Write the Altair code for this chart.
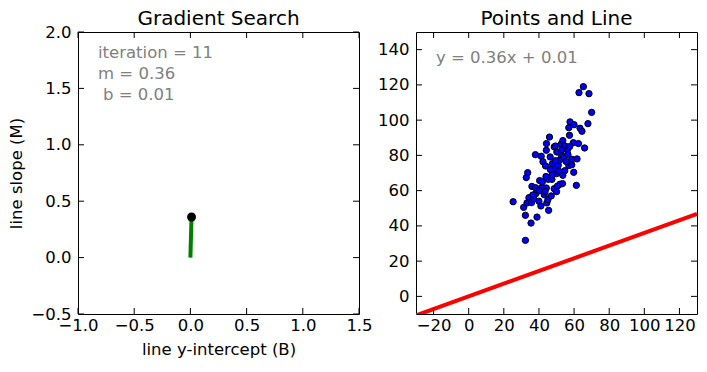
import altair as alt
import pandas as pd

FONT = "DejaVu Sans"
FS = 16.5

# ---- left panel data ----
path_b = [0.0, 0.01]
path_m = [0.0, 0.36]
final_b = [0.01]
final_m = [0.36]
ann_left = ["iteration = 11", "m = 0.36", "b = 0.01"]
left_xticks = [-1.0, -0.5, 0.0, 0.5, 1.0, 1.5]
left_yticks = [-0.5, 0.0, 0.5, 1.0, 1.5, 2.0]

# ---- right panel data ----
pts_x = [25.3, 32.3, 32.3, 31.3, 32.8, 33.6, 35.5, 34.3, 33.2, 35.8, 36.0, 37.0, 38.0, 38.0, 38.9,
         38.3, 40.0, 40.4, 41.3, 41.1, 41.3, 42.3, 41.9, 43.0, 43.8, 44.3, 44.2, 44.2, 44.5, 45.5,
         45.1, 45.3, 46.0, 46.4, 47.0, 47.4, 47.7, 48.5, 48.7, 48.7, 50.0, 49.4, 50.0, 50.2, 51.0,
         51.7, 51.3, 51.9, 52.6, 52.8, 53.4, 53.6, 53.6, 54.2, 54.7, 54.9, 56.2, 57.0, 57.0, 57.4,
         57.7, 58.7, 58.7, 59.6, 59.8, 60.0, 61.3, 61.7, 62.5, 62.8, 63.4, 64.5, 65.3, 66.0, 67.9,
         68.5, 70.0, 56.5, 57.5, 55.5, 49.5, 46.5, 43.5, 40.0, 36.5, 53.0, 50.5, 47.5, 44.0]
pts_y = [53.7, 31.8, 46.0, 50.5, 67.4, 70.2, 41.6, 56.0, 53.0, 53.2, 62.4, 55.4, 61.7, 80.4, 45.0,
         58.3, 54.0, 65.7, 79.5, 51.3, 61.5, 76.4, 64.9, 57.7, 74.0, 86.7, 82.9, 61.5, 53.0, 48.8,
         54.9, 66.4, 90.4, 79.1, 57.0, 66.4, 75.3, 72.5, 84.8, 61.1, 59.4, 85.3, 69.6, 81.9, 74.4,
         77.2, 71.1, 63.6, 86.3, 80.0, 64.0, 88.4, 68.7, 79.1, 71.3, 85.3, 83.1, 95.7, 74.2, 91.4,
         99.0, 74.7, 77.8, 87.2, 70.4, 97.4, 63.0, 78.0, 86.7, 115.6, 95.4, 93.7, 119.0, 84.2, 98.0,
         115.0, 104.4, 80.5, 85.0, 76.5, 77.0, 72.0, 59.5, 60.0, 57.5, 83.0, 62.5, 69.0, 68.0]
line_m = 0.36
line_b = 0.01
line_x = [-30, 130]
ann_right = "y = 0.36x + 0.01"
right_xticks = [-20, 0, 20, 40, 60, 80, 100, 120]
right_yticks = [0, 20, 40, 60, 80, 100, 120, 140]
titles = ["Gradient Search", "Points and Line"]

W, H = 281, 282
TL = 6


def tick_layers(xt, yt, X, Y, w, h):
    dx = pd.DataFrame({"x": xt})
    dy = pd.DataFrame({"y": yt})
    base_x = alt.Chart(dx).mark_rule(color="black", strokeWidth=1)
    base_y = alt.Chart(dy).mark_rule(color="black", strokeWidth=1)
    return [
        base_x.encode(x=X, y=alt.value(h), y2=alt.value(h - TL)),
        base_x.encode(x=X, y=alt.value(0), y2=alt.value(TL)),
        base_y.encode(y=Y, x=alt.value(0), x2=alt.value(TL)),
        base_y.encode(y=Y, x=alt.value(w), x2=alt.value(w - TL)),
    ]


def title_layer(t, w):
    return alt.Chart(pd.DataFrame({"t": [t]})).mark_text(
        align="center", baseline="alphabetic", fontSize=20, color="black", font=FONT
    ).encode(x=alt.value(w / 2), y=alt.value(-7), text="t:N")


def ann(t, x, y, dx=0):
    return alt.Chart(pd.DataFrame({"t": [t]})).mark_text(
        align="left", baseline="alphabetic", fontSize=FS, color="gray", font=FONT, dx=dx
    ).encode(x=alt.value(x), y=alt.value(y), text="t:N")


# ---- left panel ----
lxs = alt.Scale(domain=[-1.0, 1.5], nice=False, zero=False)
lys = alt.Scale(domain=[-0.5, 2.0], nice=False, zero=False)
lX = alt.X("x:Q", scale=lxs, title="line y-intercept (B)",
           axis=alt.Axis(values=left_xticks, format=".1f"))
lY = alt.Y("y:Q", scale=lys, title="line slope (M)",
           axis=alt.Axis(values=left_yticks, format=".1f"))

path_df = pd.DataFrame({"x": path_b, "y": path_m, "o": list(range(len(path_b)))})
path = alt.Chart(path_df).mark_line(color="green", strokeWidth=4).encode(x=lX, y=lY, order="o:Q")
dot = alt.Chart(pd.DataFrame({"x": final_b, "y": final_m})).mark_circle(
    color="black", size=80, opacity=1).encode(x=lX, y=lY)

left = alt.layer(
    path, dot,
    ann(ann_left[0], 20, 26), ann(ann_left[1], 20, 47), ann(ann_left[2], 20, 67.7, dx=5),
    title_layer(titles[0], W),
    *tick_layers(left_xticks, left_yticks, lX, lY, W, H)
).properties(width=W, height=H)

# ---- right panel ----
rxs = alt.Scale(domain=[-30, 130], nice=False, zero=False)
rys = alt.Scale(domain=[-10, 150], nice=False, zero=False)
rX = alt.X("x:Q", scale=rxs, title=None, axis=alt.Axis(values=right_xticks))
rY = alt.Y("y:Q", scale=rys, title=None, axis=alt.Axis(values=right_yticks))

pts = alt.Chart(pd.DataFrame({"x": pts_x, "y": pts_y})).mark_circle(
    color="blue", stroke="black", strokeWidth=1, size=40, opacity=1).encode(x=rX, y=rY)
ldf = pd.DataFrame({"x": line_x, "y": [line_m * v + line_b for v in line_x]})
fit = alt.Chart(ldf).mark_line(color="red", strokeWidth=4, clip=True).encode(x=rX, y=rY)

right = alt.layer(
    fit, pts, ann(ann_right, 20, 31), title_layer(titles[1], W),
    *tick_layers(right_xticks, right_yticks, rX, rY, W, H)
).properties(width=W, height=H)

chart = alt.hconcat(left, right, spacing=57, bounds="flush").properties(padding=0).configure_view(
    stroke="black", strokeWidth=1
).configure_axis(
    labelFont=FONT, titleFont=FONT, labelFontSize=FS, titleFontSize=FS,
    titleFontWeight="normal", labelColor="black", titleColor="black",
    ticks=False, domain=False, grid=False, labelPadding=3.5, titlePadding=7,
    labelFlush=False
).configure_axisY(titlePadding=6, labelPadding=7).configure_text(font=FONT)

chart.save("out.html", embed_options={"renderer": "svg", "actions": False})
